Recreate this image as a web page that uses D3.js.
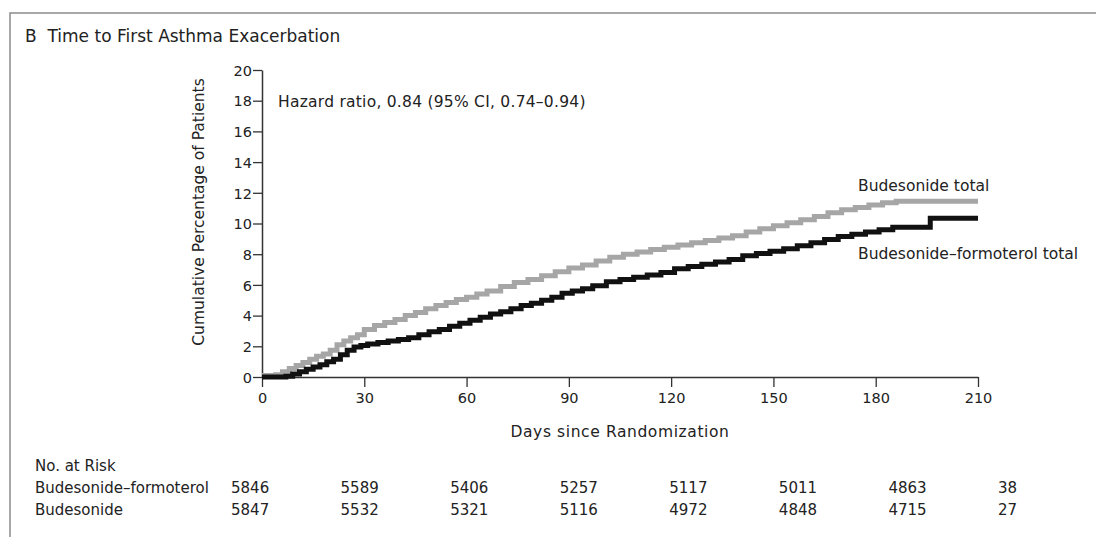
<!DOCTYPE html>
<html><head><meta charset="utf-8">
<script src="https://cdn.jsdelivr.net/npm/d3@7"></script>
<style>
body{margin:0;background:#fff;}
text{font-family:"DejaVu Sans",sans-serif;fill:#222;}
</style></head>
<body><svg id="c" width="1096" height="537"></svg>
<script>
const title = "B  Time to First Asthma Exacerbation";
const yLabel = "Cumulative Percentage of Patients";
const xLabel = "Days since Randomization";
const hazardText = "Hazard ratio, 0.84 (95% CI, 0.74\u20130.94)";
const xTicks = [0, 30, 60, 90, 120, 150, 180, 210];
const yTicks = [0, 2, 4, 6, 8, 10, 12, 14, 16, 18, 20];
const seriesNames = ["Budesonide total", "Budesonide\u2013formoterol total"];

// Budesonide (gray) step curve: [day, cumulative %]
const budDays = [0,4,6,8,10,12,14,16,18,20,22,24,26,28,30,33,36,39,42,45,48,51,54,57,60,63,66,70,74,78,82,86,90,94,98,102,106,110,114,118,122,126,130,134,138,142,146,150,154,158,162,166,170,174,178,182,186,210];
const budVals = [0.1,0.15,0.35,0.55,0.75,0.95,1.15,1.35,1.5,1.75,2.1,2.35,2.55,2.75,3.1,3.35,3.55,3.75,4.0,4.2,4.45,4.65,4.85,5.05,5.2,5.4,5.6,5.9,6.15,6.35,6.6,6.85,7.1,7.3,7.55,7.8,8.0,8.15,8.3,8.45,8.6,8.75,8.9,9.05,9.2,9.45,9.65,9.85,10.05,10.25,10.45,10.7,10.9,11.05,11.2,11.35,11.45,11.45];

// Budesonide-formoterol (black) step curve
const bfDays = [0,7,9,11,13,15,17,19,21,23,25,27,29,31,34,37,40,43,46,49,52,55,58,61,64,67,70,73,76,79,82,85,88,91,94,97,101,105,109,113,117,121,125,129,133,137,141,145,149,153,157,161,165,169,173,177,181,185,196,210];
const bfVals = [0,0.05,0.2,0.35,0.5,0.65,0.8,1.0,1.15,1.45,1.75,1.95,2.05,2.15,2.25,2.35,2.45,2.55,2.75,2.95,3.1,3.3,3.5,3.7,3.9,4.1,4.25,4.45,4.65,4.8,5.0,5.2,5.45,5.6,5.75,5.95,6.2,6.35,6.5,6.65,6.8,7.05,7.2,7.35,7.5,7.65,7.9,8.05,8.2,8.35,8.55,8.75,8.95,9.15,9.3,9.45,9.6,9.75,10.35,10.35];

// Number at risk
const riskLabels = ["Budesonide\u2013formoterol", "Budesonide"];
const riskBF = [5846, 5589, 5406, 5257, 5117, 5011, 4863, 38];
const riskBud = [5847, 5532, 5321, 5116, 4972, 4848, 4715, 27];

const svg = d3.select("#c");
// frame
svg.append("path").attr("d","M10,537 L10,13 L1096,13").attr("fill","none").attr("stroke","#8c8c8c").attr("stroke-width",1.5);

svg.append("text").attr("x",25).attr("y",42).attr("font-size",17).attr("xml:space","preserve").text(title);

const x = d3.scaleLinear().domain([0,210]).range([262,978]);
const y = d3.scaleLinear().domain([0,20]).range([377,70]);

const gx = svg.append("g").attr("transform","translate(0,377)")
  .call(d3.axisBottom(x).tickValues(xTicks).tickSize(10).tickSizeOuter(0).tickPadding(6));
const gy = svg.append("g").attr("transform","translate(262,0)")
  .call(d3.axisLeft(y).tickValues(yTicks).tickSize(9).tickSizeOuter(0).tickPadding(1));
[gx,gy].forEach(g=>{
  g.select(".domain").attr("stroke","#333").attr("stroke-width",1.5);
  g.selectAll(".tick line").attr("stroke","#333").attr("stroke-width",1.3);
  g.selectAll(".tick text").attr("font-size",14.5).attr("fill","#222").attr("font-family","'DejaVu Sans',sans-serif");
});
gy.selectAll(".tick text").attr("dy","0.36em");

svg.append("text").attr("transform","translate(204,212) rotate(-90)").attr("text-anchor","middle").attr("font-size",15.5).text(yLabel);
svg.append("text").attr("x",620).attr("y",437).attr("text-anchor","middle").attr("font-size",15.5).attr("letter-spacing",0.6).text(xLabel);
svg.append("text").attr("x",278).attr("y",107).attr("font-size",15.5).attr("letter-spacing",0.25).text(hazardText);

const line = d3.line().x(d=>x(d[0])).y(d=>y(d[1])).curve(d3.curveStepAfter);
const budData = d3.zip(budDays, budVals);
const bfData = d3.zip(bfDays, bfVals);
svg.append("path").datum(budData).attr("d",line).attr("fill","none").attr("stroke","#a6a6a6").attr("stroke-width",5);
svg.append("path").datum(bfData).attr("d",line).attr("fill","none").attr("stroke","#111").attr("stroke-width",5);

svg.append("text").attr("x",858).attr("y",191).attr("font-size",15.5).text(seriesNames[0]);
svg.append("text").attr("x",858).attr("y",259).attr("font-size",15.5).text(seriesNames[1]);

// risk table
const rx = d3.scaleLinear().domain([0,210]).range([231,998]);
svg.append("text").attr("x",35).attr("y",471).attr("font-size",15).text("No. at Risk");
const rowsY = [493, 515];
[riskBF, riskBud].forEach((row,i)=>{
  svg.append("text").attr("x",35).attr("y",rowsY[i]).attr("font-size",15).text(riskLabels[i]);
  svg.selectAll(null).data(row).enter().append("text")
    .attr("x",(d,j)=>rx(xTicks[j])).attr("y",rowsY[i]).attr("font-size",15).text(d=>d);
});
</script></body></html>
